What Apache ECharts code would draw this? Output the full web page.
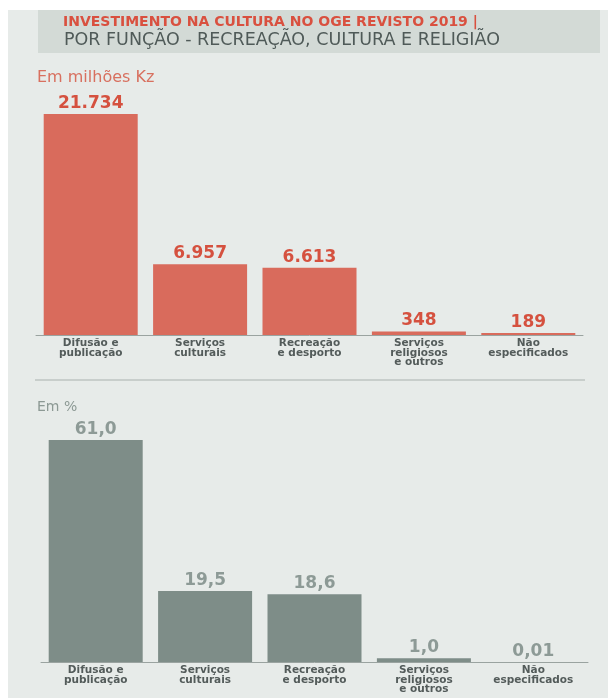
<!DOCTYPE html>
<html>
<head>
<meta charset="utf-8">
<script src="https://cdn.jsdelivr.net/npm/echarts@6/dist/echarts.min.js"></script>
<style>
  html, body { margin: 0; padding: 0; background: #ffffff; }
  #chart { width: 610px; height: 698px; }
</style>
</head>
<body>
<div id="chart"></div>
<script>
const categories = ['Difusão e\npublicação', 'Serviços\nculturais', 'Recreação\ne desporto', 'Serviços\nreligiosos\ne outros', 'Não\nespecificados'];
const valuesKz = [21734, 6957, 6613, 348, 189];
const valuesPct = [61.0, 19.5, 18.6, 1.0, 0.01];

const titleText = 'INVESTIMENTO NA CULTURA NO OGE REVISTO 2019 |';
const subtitleText = 'POR FUNÇÃO - RECREAÇÃO, CULTURA E RELIGIÃO';
const unitKz = 'Em milhões Kz';
const unitPct = 'Em %';

function fmtKz(v) { return String(v).replace(/\B(?=(\d{3})+(?!\d))/g, '.'); }
function fmtPct(v) { return v.toFixed(v < 0.1 ? 2 : 1).replace('.', ','); }

const chart = echarts.init(document.getElementById('chart'));
const catLabel = {
  color: '#535b5a', fontSize: 10.5, fontWeight: 'bold', fontFamily: 'DejaVu Sans', lineHeight: 9.5,
  margin: 4, interval: 0, verticalAlign: 'top'
};
chart.setOption({
  animation: false,
  graphic: [
    { type: 'rect', shape: { x: 8, y: 10, width: 600, height: 688 }, style: { fill: '#e7ebe9' }, z: -10 },
    { type: 'rect', shape: { x: 38, y: 10, width: 562, height: 43 }, style: { fill: '#d3dad6' }, z: -9 },
    { type: 'text', x: 63, y: 22, style: { text: titleText, fill: '#d9503f', font: 'bold 14px "DejaVu Sans"', verticalAlign: 'middle' } },
    { type: 'text', x: 64, y: 40, style: { text: subtitleText, fill: '#4f5a58', font: '17.5px "DejaVu Sans"', verticalAlign: 'middle' } },
    { type: 'text', x: 37, y: 78, style: { text: unitKz, fill: '#d8705f', font: '16px "DejaVu Sans"', verticalAlign: 'middle' } },
    { type: 'text', x: 37, y: 407, style: { text: unitPct, fill: '#8c9994', font: '14px "DejaVu Sans"', verticalAlign: 'middle' } },
    { type: 'line', shape: { x1: 35, y1: 380, x2: 585, y2: 380 }, style: { stroke: '#a9b1ae', lineWidth: 1 } }
  ],
  grid: [
    { left: 36, right: 27, top: 114, bottom: 363 },
    { left: 41, right: 22, top: 440, bottom: 36 }
  ],
  xAxis: [
    { type: 'category', gridIndex: 0, data: categories, axisTick: { show: false },
      axisLine: { lineStyle: { color: '#9aa3a0' } }, axisLabel: catLabel },
    { type: 'category', gridIndex: 1, data: categories, axisTick: { show: false },
      axisLine: { lineStyle: { color: '#9aa3a0' } }, axisLabel: catLabel }
  ],
  yAxis: [
    { type: 'value', gridIndex: 0, min: 0, max: 21734, show: false, splitLine: { show: false } },
    { type: 'value', gridIndex: 1, min: 0, max: 61, show: false, splitLine: { show: false } }
  ],
  series: [
    { type: 'bar', xAxisIndex: 0, yAxisIndex: 0, data: valuesKz, barWidth: 94,
      itemStyle: { color: '#d96b5c' },
      label: { show: true, position: 'top', distance: 2, color: '#d5513f',
        fontFamily: 'DejaVu Sans', fontWeight: 'bold', fontSize: 17,
        formatter: p => fmtKz(p.value) } },
    { type: 'bar', xAxisIndex: 1, yAxisIndex: 1, data: valuesPct, barWidth: 94,
      itemStyle: { color: '#7e8d88' },
      label: { show: true, position: 'top', distance: 2, color: '#8d9a96',
        fontFamily: 'DejaVu Sans', fontWeight: 'bold', fontSize: 17,
        formatter: p => fmtPct(p.value) } }
  ]
});
</script>
</body>
</html>
